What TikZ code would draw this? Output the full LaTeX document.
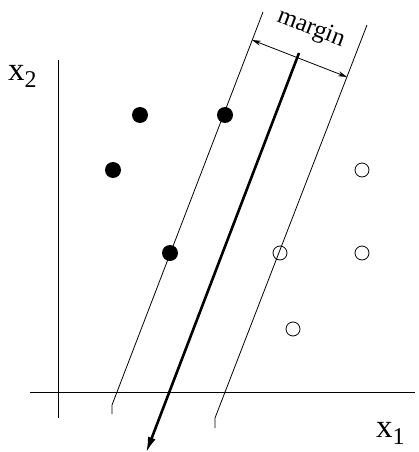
\documentclass[tikz,border=0pt]{standalone}
\usepackage{fontspec}
\setmainfont{Liberation Serif}
\usetikzlibrary{arrows.meta}
\begin{document}
\begin{tikzpicture}[x=1pt,y=-1pt,
  thinline/.style={line width=0.8pt},
  posdot/.style={circle,fill=black,inner sep=0pt,minimum size=16pt},
  negdot/.style={circle,draw=black,line width=0.8pt,inner sep=0pt,minimum size=14pt},
  lbl/.style={inner sep=0pt}]
\useasboundingbox (0,0) rectangle (419,452);
% axes
\draw[thinline] (58,60) coordinate (ytop) -- (58,418) coordinate (ybot);
\draw[thinline] (30,392) coordinate (xl) -- (415,392) coordinate (xr);
\node[lbl,anchor=base west] (x2) at (8,80) {\fontsize{33}{33}\selectfont x\raisebox{-7pt}{\fontsize{24}{24}\selectfont 2}};
\node[lbl,anchor=base west] (x1) at (376,437) {\fontsize{33}{33}\selectfont x\raisebox{-7pt}{\fontsize{24}{24}\selectfont 1}};
% margin lines
\coordinate (la) at (263,12); \coordinate (lb) at (112,405); \coordinate (lc) at (112,414);
\coordinate (ra) at (367,25); \coordinate (rb) at (215,418); \coordinate (rc) at (215,428);
\draw[thinline] (la) -- (lb) -- (lc);
\draw[thinline] (ra) -- (rb) -- (rc);
% separator
\coordinate (sa) at (299,53); \coordinate (sb) at (146,453);
\draw[line width=2.6pt,-{Latex[length=16pt,width=8pt]}] (sa) -- (sb);
% margin arrow
\coordinate (ma) at (252,40); \coordinate (mb) at (347,77);
\draw[thinline,{Stealth[length=9pt,width=5pt]}-{Stealth[length=9pt,width=5pt]}] (ma) -- (mb);
\node[lbl,rotate=-21] (mlabel) at (311,29) {\fontsize{25}{25}\selectfont margin};
% points
\node[posdot] (p1) at (140,115) {};
\node[posdot] (p2) at (225,115) {};
\node[posdot] (p3) at (113,170) {};
\node[posdot] (p4) at (170,253) {};
\node[negdot] (n1) at (362,170) {};
\node[negdot] (n2) at (280,253) {};
\node[negdot] (n3) at (362,253) {};
\node[negdot] (n4) at (293,329) {};
\end{tikzpicture}
\end{document}
